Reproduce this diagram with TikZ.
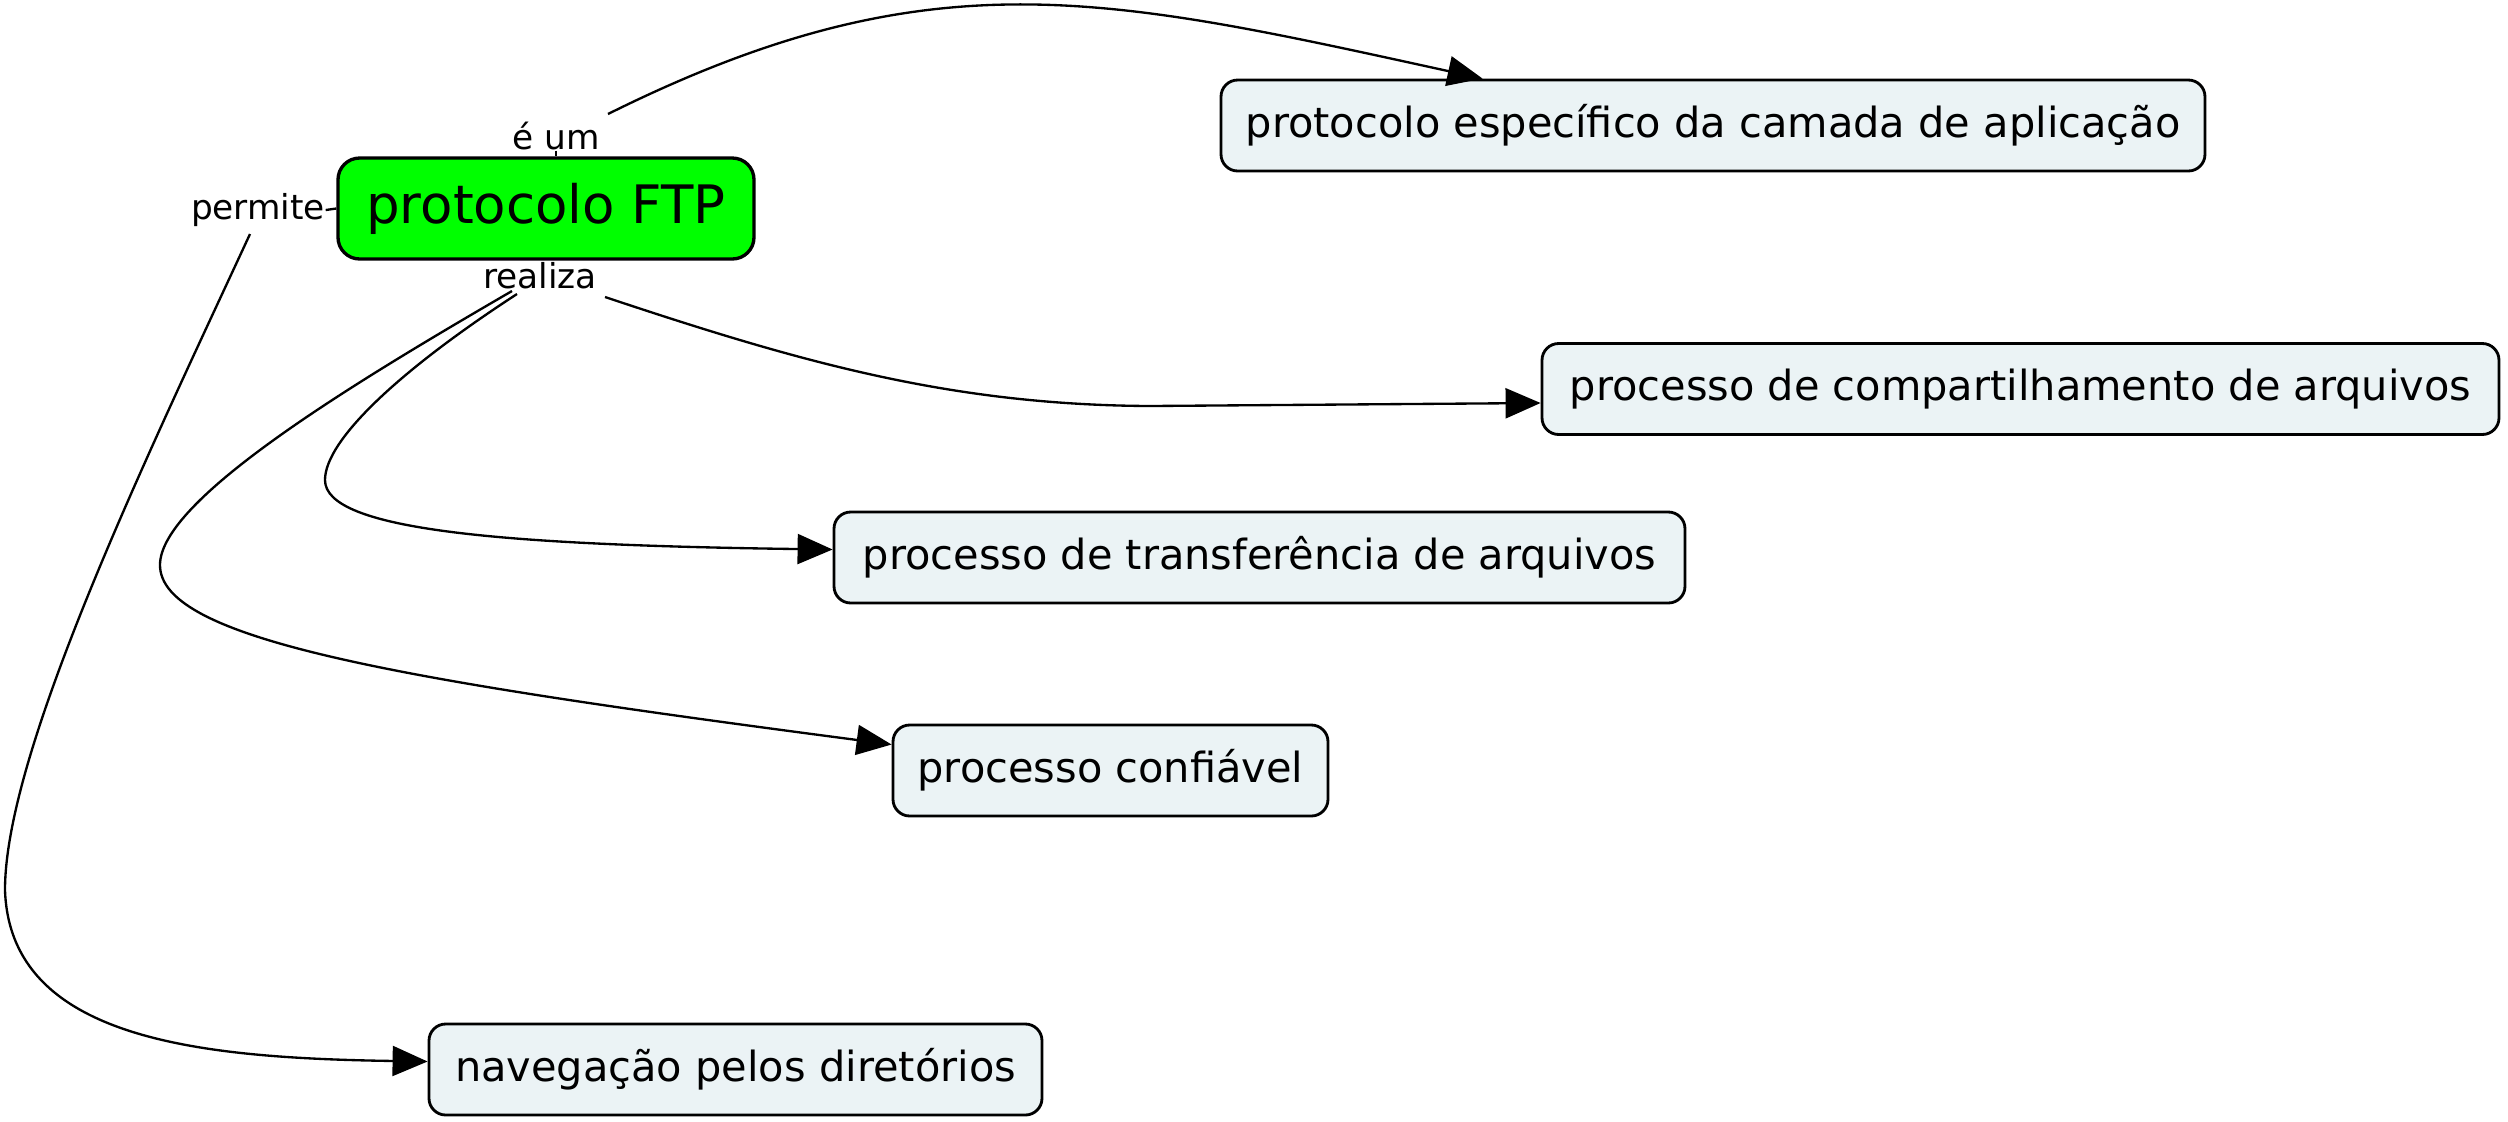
\documentclass[tikz,border=0pt]{standalone}
\usepackage{fontspec}
\setmainfont{DejaVu Sans}
\usetikzlibrary{arrows.meta,calc}
\definecolor{boxfill}{RGB}{235,243,245}
\definecolor{ftpgreen}{RGB}{0,255,0}
\tikzset{
  concept/.style={draw=black, line width=0.85pt, fill=boxfill, rounded corners=5pt,
    minimum height=27.3pt, inner xsep=0pt, inner ysep=0pt,
    font=\fontsize{12.45pt}{15pt}\selectfont},
  mainconcept/.style={draw=black, line width=1pt, fill=ftpgreen, rounded corners=6.5pt,
    minimum width=124.8pt, minimum height=30.3pt, inner xsep=0pt, inner ysep=0pt,
    font=\fontsize{15.9pt}{19pt}\selectfont},
  linklabel/.style={inner sep=0pt, font=\fontsize{10.3pt}{12pt}\selectfont},
  link/.style={line width=0.7pt, draw=black},
  arrowlink/.style={link, -{Triangle[length=10.5pt,width=9pt]}}
}
\begin{document}
\begin{tikzpicture}[x=0.3pt,y=-0.3pt]
\useasboundingbox (0,0) rectangle (2508,1121);
% nodes
\node[mainconcept] (ftp) at (546,208.5) {protocolo FTP};
\node[concept, minimum width=295.2pt] (n1) at (1713,125.5) {protocolo específico da camada de aplicação};
\node[concept, minimum width=287.1pt] (n2) at (2020.5,389) {processo de compartilhamento de arquivos};
\node[concept, minimum width=255.3pt] (n3) at (1259.5,557.5) {processo de transferência de arquivos};
\node[concept, minimum width=130.5pt] (n4) at (1110.5,770.5) {processo confiável};
\node[concept, minimum width=183.9pt] (n5) at (735.5,1069.5) {navegação pelos diretórios};
% link labels
\node[linklabel] (eum) at (556,136) {é um};
\node[linklabel] (permite) at (258,210) {permite};
\node[linklabel] (realiza) at (540,276) {realiza};
% short connections to main concept
\draw[link] (eum.south) -- (eum.south |- ftp.north);
\draw[link] (permite.east) -- (ftp.west);
% connectors
\draw[arrowlink] ($(eum.center)+(52,-22)$) .. controls (930,-46) and (1105,-4) .. ($(n1.north west)+(263,0)$);
\draw[arrowlink] ($(realiza.center)+(65,21)$) .. controls (800,362) and (950,405) .. (1150,406) -- ($(n2.west)+(0,14)$);
\draw[arrowlink] ($(realiza.center)+(-23,18)$) .. controls (400,370) and (325,440) .. (325,480)
   .. controls (325,530) and (500,545) .. ($(n3.west)+(0,-8)$);
\draw[arrowlink] ($(realiza.center)+(-28,15)$) .. controls (350,385) and (160,500) .. (160,565)
   .. controls (160,640) and (400,680) .. ($(n4.west)+(0,-26)$);
\draw[arrowlink] ($(permite.center)+(-8,24)$) .. controls (150,450) and (5,750) .. (5,890)
   .. controls (10,1040) and (200,1058) .. ($(n5.west)+(0,-8)$);
\end{tikzpicture}
\end{document}
